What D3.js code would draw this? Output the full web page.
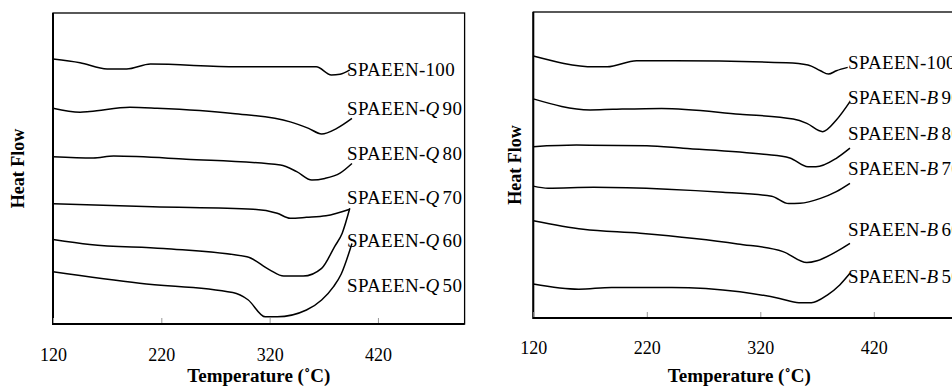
<!DOCTYPE html>
<html>
<head>
<meta charset="utf-8">
<script src="https://cdn.jsdelivr.net/npm/d3@7"></script>
<style>
  html, body { margin: 0; padding: 0; background: #fff; }
  svg { display: block; font-family: "Liberation Serif", "Times New Roman", serif; }
</style>
</head>
<body>
<div id="chart"></div>
<script>
// temperature ticks (°C)
const tickTemps = [120, 220, 320, 420]

// left panel: SPAEEN-100 and SPAEEN-Q series (heat flow, arbitrary units)
const q100T = [120, 145, 170, 188, 210, 290, 363, 377, 385, 394]
const q100V = [85.2, 84.0, 82.0, 82.0, 83.6, 82.7, 82.7, 80.1, 80.3, 81.7]
const q90T = [120, 145, 154, 191, 216, 286, 339, 356, 368, 382, 396]
const q90V = [69.4, 68.1, 68.3, 69.7, 69.4, 67.7, 65.0, 62.9, 61.1, 62.9, 66.1]
const q80T = [120, 157, 176, 243, 330, 345, 359, 371, 385, 396]
const q80V = [53.8, 53.4, 54.0, 53.0, 51.1, 49.0, 46.3, 46.8, 48.5, 51.6]
const q70T = [120, 212, 305, 327, 339, 354, 372, 394]
const q70V = [38.7, 37.7, 36.9, 35.6, 34.0, 34.3, 34.8, 36.9]
const q60T = [120, 154, 222, 299, 320, 333, 351, 368, 380, 387, 394]
const q60V = [27.2, 25.6, 24.3, 21.6, 17.4, 15.4, 15.4, 17.9, 24.9, 29.2, 37.2]
const q50T = [120, 200, 286, 300, 316, 327, 354, 368, 379, 386, 396]
const q50V = [16.8, 13.1, 10.1, 7.8, 2.3, 2.3, 4.5, 7.7, 12.0, 16.0, 25.9]

// right panel: SPAEEN-100 and SPAEEN-B series
const b100T = [120, 174, 185, 211, 245, 343, 362, 373, 380, 387, 397]
const b100V = [85.6, 82.1, 82.1, 84.1, 84.1, 83.4, 82.7, 80.8, 79.7, 80.8, 81.9]
const b90T = [120, 170, 190, 233, 302, 349, 361, 375, 387, 399]
const b90V = [71.6, 68.0, 68.2, 68.5, 66.6, 65.0, 63.6, 60.9, 64.7, 70.7]
const b80T = [120, 158, 220, 252, 323, 346, 362, 369, 387, 399]
const b80V = [56.0, 56.5, 56.3, 55.5, 53.5, 52.3, 49.4, 49.4, 52.2, 55.5]
const b70T = [120, 133, 173, 238, 287, 330, 345, 355, 373, 387, 399]
const b70V = [43.1, 42.4, 42.7, 42.1, 41.1, 39.8, 37.4, 37.5, 39.1, 41.3, 44.0]
const b60T = [120, 164, 214, 300, 340, 361, 370, 387, 399]
const b60V = [31.8, 29.0, 27.7, 24.2, 21.7, 18.1, 18.7, 21.7, 24.4]
const b50T = [120, 160, 189, 242, 302, 337, 354, 365, 379, 390, 399]
const b50V = [11.1, 9.4, 10.0, 10.0, 8.6, 6.4, 5.0, 5.0, 7.5, 10.8, 14.6]

// series labels: [prefix, italic letter, number]
const leftLabels = [['SPAEEN-', '', '100'], ['SPAEEN-', 'Q', '90'], ['SPAEEN-', 'Q', '80'],
  ['SPAEEN-', 'Q', '70'], ['SPAEEN-', 'Q', '60'], ['SPAEEN-', 'Q', '50']]
const rightLabels = [['SPAEEN-', '', '100'], ['SPAEEN-', 'B', '90'], ['SPAEEN-', 'B', '80'],
  ['SPAEEN-', 'B', '70'], ['SPAEEN-', 'B', '60'], ['SPAEEN-', 'B', '50']]

const zip = (ts, vs) => ts.map((t, i) => ({ t, v: vs[i] }))

const panels = [
  {
    series: [zip(q100T, q100V), zip(q90T, q90V), zip(q80T, q80V), zip(q70T, q70V), zip(q60T, q60V), zip(q50T, q50V)],
    labels: leftLabels,
    labelT: 391.5,
    labelV: [82.0, 69.4, 54.9, 40.8, 27.0, 12.5],
    x0: 53, x1: 464.6, top: 13, bottom: 324,
    ylabX: 18, tickPad: 24
  },
  {
    series: [zip(b100T, b100V), zip(b90T, b90V), zip(b80T, b80V), zip(b70T, b70V), zip(b60T, b60V), zip(b50T, b50V)],
    labels: rightLabels,
    labelT: 397.3,
    labelV: [83.7, 72.2, 60.5, 49.0, 29.1, 13.7],
    x0: 533.3, x1: 964.6, top: 12, bottom: 318,
    ylabX: 515, tickPad: 23
  }
]

const width = 952
const height = 387

const svg = d3.select('#chart')
  .append('svg')
  .attr('width', width)
  .attr('height', height)
  .attr('viewBox', [0, 0, width, height])

svg.append('rect').attr('width', width).attr('height', height).attr('fill', '#fff')

panels.forEach(p => {
  const x = d3.scaleLinear().domain([120, 500]).range([p.x0, p.x1])
  const y = d3.scaleLinear().domain([0, 100]).range([p.bottom, p.top])
  const g = svg.append('g')

  // frame
  g.append('rect')
    .attr('x', p.x0).attr('y', p.top)
    .attr('width', p.x1 - p.x0).attr('height', p.bottom - p.top)
    .attr('fill', 'none').attr('stroke', '#000').attr('stroke-width', 1.3)
  g.append('path')
    .attr('d', `M${p.x0},${p.top}V${p.bottom}H${p.x1}`)
    .attr('fill', 'none').attr('stroke', '#000').attr('stroke-width', 2)

  // x axis: inward ticks, labels below
  const xAxis = g.append('g')
    .attr('transform', `translate(0,${p.bottom})`)
    .call(d3.axisBottom(x).tickValues(tickTemps).tickSize(-5).tickPadding(p.tickPad))
  xAxis.select('.domain').remove()
  xAxis.selectAll('.tick line').attr('stroke', '#999').attr('transform', 'translate(0,-1)')
  xAxis.selectAll('.tick text')
    .attr('font-family', '"Liberation Serif", serif')
    .attr('font-size', 18).attr('fill', '#000')
    .attr('dy', '0.35em').attr('y', p.tickPad + 7)

  g.append('text')
    .attr('x', (p.x0 + Math.min(p.x1, p.x0 + 412)) / 2)
    .attr('y', 382)
    .attr('text-anchor', 'middle')
    .attr('font-size', 19).attr('font-weight', 'bold')
    .text('Temperature (˚C)')

  g.append('text')
    .attr('transform', `translate(${p.ylabX},${(p.top + p.bottom) / 2}) rotate(-90)`)
    .attr('dy', '0.35em')
    .attr('text-anchor', 'middle')
    .attr('font-size', 18).attr('font-weight', 'bold')
    .text('Heat Flow')

  const line = d3.line()
    .x(d => x(d.t))
    .y(d => y(d.v))
    .curve(d3.curveMonotoneX)

  g.selectAll('path.curve')
    .data(p.series)
    .join('path')
    .attr('class', 'curve')
    .attr('fill', 'none')
    .attr('stroke', '#000')
    .attr('stroke-width', 1.5)
    .attr('d', line)

  p.labels.forEach((lab, i) => {
    const t = g.append('text')
      .attr('x', x(p.labelT))
      .attr('y', y(p.labelV[i]))
      .attr('dy', '0.35em')
      .attr('font-size', 19)
      .attr('letter-spacing', 0.3)
    t.append('tspan').text(lab[0])
    if (lab[1]) {
      t.append('tspan').attr('font-style', 'italic').text(lab[1])
      t.append('tspan').attr('dx', 3).text(lab[2])
    } else {
      t.append('tspan').text(lab[2])
    }
  })
})
</script>
</body>
</html>
